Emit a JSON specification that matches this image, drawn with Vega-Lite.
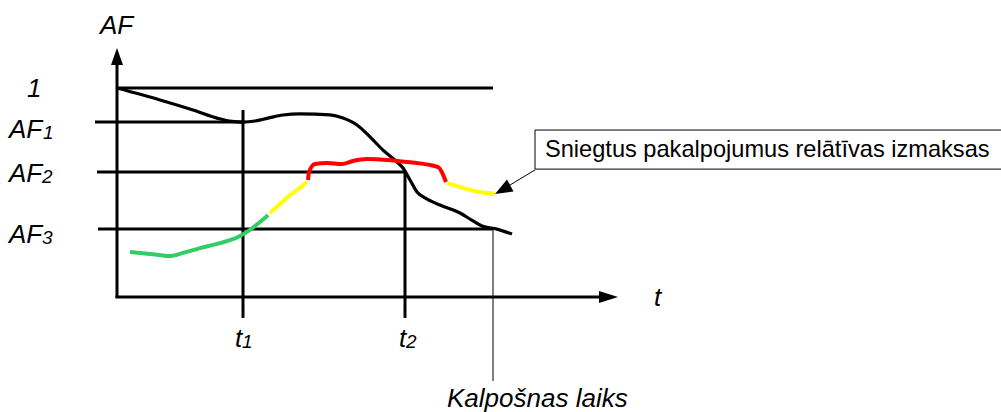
{
  "$schema": "https://vega.github.io/schema/vega-lite/v6.json",
  "width": 1001,
  "height": 412,
  "autosize": {"type": "fit", "contains": "padding"},
  "padding": 0,
  "background": "white",
  "config": {"view": {"stroke": null}},
  "datasets": {
    "rules": [
      {"kind": "axis", "t": 0, "t2": 0, "af": -0.5, "af2": 112},
      {"kind": "axis", "t": -0.15, "t2": 49.0, "af": 0, "af2": 0},
      {"kind": "level", "t": 0, "t2": 37.6, "af": 100, "af2": 100},
      {"kind": "level", "t": -2.2, "t2": 12.6, "af": 83.7, "af2": 83.7},
      {"kind": "level", "t": -2.0, "t2": 28.8, "af": 59.8, "af2": 59.8},
      {"kind": "level", "t": -1.9, "t2": 37.6, "af": 32.5, "af2": 32.5},
      {"kind": "time", "t": 12.6, "t2": 12.6, "af": 89.5, "af2": -10.0},
      {"kind": "time", "t": 28.8, "t2": 28.8, "af": 59.8, "af2": -10.0},
      {"kind": "service", "t": 37.6, "t2": 37.6, "af": 32.5, "af2": -40.2},
      {"kind": "leader", "t": 41.8, "t2": 39.2, "af": 60.8, "af2": 53.3}
    ],
    "curves": [
      {"segment": "AF", "t": 0, "af": 100},
      {"segment": "AF", "t": 4.3, "af": 94.3},
      {"segment": "AF", "t": 7.6, "af": 89.5},
      {"segment": "AF", "t": 10.0, "af": 85.6},
      {"segment": "AF", "t": 11.5, "af": 84.0},
      {"segment": "AF", "t": 12.6, "af": 83.7},
      {"segment": "AF", "t": 13.8, "af": 84.2},
      {"segment": "AF", "t": 15.1, "af": 85.6},
      {"segment": "AF", "t": 16.6, "af": 87.1},
      {"segment": "AF", "t": 18.3, "af": 87.6},
      {"segment": "AF", "t": 21.3, "af": 87.1},
      {"segment": "AF", "t": 22.6, "af": 85.6},
      {"segment": "AF", "t": 24.0, "af": 82.3},
      {"segment": "AF", "t": 25.3, "af": 76.6},
      {"segment": "AF", "t": 26.6, "af": 70.3},
      {"segment": "AF", "t": 28.0, "af": 64.6},
      {"segment": "AF", "t": 28.6, "af": 61.7},
      {"segment": "AF", "t": 29.3, "af": 56.0},
      {"segment": "AF", "t": 30.0, "af": 50.2},
      {"segment": "AF", "t": 30.8, "af": 47.4},
      {"segment": "AF", "t": 32.3, "af": 44.0},
      {"segment": "AF", "t": 34.3, "af": 40.2},
      {"segment": "AF", "t": 35.6, "af": 36.4},
      {"segment": "AF", "t": 36.5, "af": 34.0},
      {"segment": "AF", "t": 38.0, "af": 32.5},
      {"segment": "AF", "t": 39.5, "af": 30.1},

      {"segment": "c1", "level": "low", "t": 1.3, "af": 21.5},
      {"segment": "c1", "level": "low", "t": 3.3, "af": 20.6},
      {"segment": "c1", "level": "low", "t": 5.3, "af": 19.6},
      {"segment": "c1", "level": "low", "t": 6.6, "af": 21.1},
      {"segment": "c1", "level": "low", "t": 8.3, "af": 23.4},
      {"segment": "c1", "level": "low", "t": 10.3, "af": 25.8},
      {"segment": "c1", "level": "low", "t": 12.1, "af": 28.7},
      {"segment": "c1", "level": "low", "t": 13.3, "af": 32.1},
      {"segment": "c1", "level": "low", "t": 14.3, "af": 35.9},
      {"segment": "c1", "level": "low", "t": 15.1, "af": 39.2},

      {"segment": "c2", "level": "medium", "t": 15.3, "af": 40.2},
      {"segment": "c2", "level": "medium", "t": 16.3, "af": 44.5},
      {"segment": "c2", "level": "medium", "t": 17.3, "af": 48.8},
      {"segment": "c2", "level": "medium", "t": 18.3, "af": 52.2},
      {"segment": "c2", "level": "medium", "t": 19.0, "af": 55.0},

      {"segment": "c3", "level": "high", "t": 19.1, "af": 56.0},
      {"segment": "c3", "level": "high", "t": 19.2, "af": 59.8},
      {"segment": "c3", "level": "high", "t": 19.8, "af": 63.6},
      {"segment": "c3", "level": "high", "t": 21.0, "af": 64.1},
      {"segment": "c3", "level": "high", "t": 22.5, "af": 63.6},
      {"segment": "c3", "level": "high", "t": 23.6, "af": 65.1},
      {"segment": "c3", "level": "high", "t": 25.0, "af": 66.0},
      {"segment": "c3", "level": "high", "t": 27.0, "af": 65.6},
      {"segment": "c3", "level": "high", "t": 29.0, "af": 64.6},
      {"segment": "c3", "level": "high", "t": 32.1, "af": 62.2},
      {"segment": "c3", "level": "high", "t": 32.9, "af": 55.0},

      {"segment": "c4", "level": "medium", "t": 33.0, "af": 54.5},
      {"segment": "c4", "level": "medium", "t": 34.3, "af": 52.6},
      {"segment": "c4", "level": "medium", "t": 36.3, "af": 50.2},
      {"segment": "c4", "level": "medium", "t": 37.8, "af": 49.3}
    ],
    "heads": [
      {"head": "AF", "t": 0, "af": 115.1},
      {"head": "t", "t": 49.15, "af": 0},
      {"head": "note", "t": 37.8, "af": 49.3}
    ],
    "labels": [
      {"role": "main", "text": "AF", "t": -1.7, "af": 125.8},
      {"role": "main", "text": "1", "t": -9.0, "af": 95.7},
      {"role": "main", "text": "AF", "t": -10.8, "af": 76.1},
      {"role": "main", "text": "AF", "t": -10.8, "af": 55.0},
      {"role": "main", "text": "AF", "t": -10.8, "af": 25.8},
      {"role": "main", "text": "t", "t": 53.7, "af": -4.3},
      {"role": "main", "text": "t", "t": 11.8, "af": -23.9},
      {"role": "main", "text": "t", "t": 28.2, "af": -23.9},
      {"role": "main", "text": "Kalpošnas laiks", "t": 33.0, "af": -52.6},
      {"role": "sub", "text": "1", "t": -7.4, "af": 75.6},
      {"role": "sub", "text": "2", "t": -7.5, "af": 54.5},
      {"role": "sub", "text": "3", "t": -7.5, "af": 25.4},
      {"role": "sub", "text": "1", "t": 12.5, "af": -24.4},
      {"role": "sub", "text": "2", "t": 28.9, "af": -24.4},
      {"role": "note", "text": "Sniegtus pakalpojumus relātīvas izmaksas", "t": 42.8, "af": 67.0}
    ],
    "box": [
      {"t": 41.8, "t2": 88.6, "af": 79.9, "af2": 61.2}
    ]
  },
  "encoding": {
    "x": {"field": "t", "type": "quantitative", "axis": null,
          "scale": {"domain": [-11.7, 88.4], "nice": false, "zero": false}},
    "y": {"field": "af", "type": "quantitative", "axis": null,
          "scale": {"domain": [-55.02, 142.11], "nice": false, "zero": false}}
  },
  "layer": [
    {
      "data": {"name": "box"},
      "mark": {"type": "rect", "fill": "white", "stroke": "black", "strokeWidth": 1, "clip": true},
      "encoding": {
        "x2": {"field": "t2"},
        "y2": {"field": "af2"}
      }
    },
    {
      "data": {"name": "rules"},
      "transform": [{"filter": "datum.kind === 'axis' || datum.kind === 'level' || datum.kind === 'time'"}],
      "mark": {"type": "rule", "color": "black", "strokeWidth": 3},
      "encoding": {
        "x2": {"field": "t2"},
        "y2": {"field": "af2"}
      }
    },
    {
      "data": {"name": "rules"},
      "transform": [{"filter": "datum.kind === 'service' || datum.kind === 'leader'"}],
      "mark": {"type": "rule", "color": "black", "strokeWidth": 1},
      "encoding": {
        "x2": {"field": "t2"},
        "y2": {"field": "af2"}
      }
    },
    {
      "data": {"name": "curves"},
      "transform": [{"filter": "datum.segment === 'AF'"}],
      "mark": {"type": "line", "color": "black", "strokeWidth": 3.2, "interpolate": "monotone"},
      "encoding": {}
    },
    {
      "data": {"name": "curves"},
      "transform": [{"filter": "datum.segment !== 'AF'"}],
      "mark": {"type": "line", "strokeWidth": 4, "interpolate": "monotone"},
      "encoding": {
        "detail": {"field": "segment", "type": "nominal"},
        "color": {"field": "level", "type": "nominal", "legend": null,
                  "scale": {"domain": ["low", "medium", "high"], "range": ["#33cc66", "#ffff00", "#ff0000"]}}
      }
    },
    {
      "data": {"name": "heads"},
      "mark": {"type": "point", "filled": true, "color": "black", "opacity": 1, "size": 400, "strokeWidth": 0},
      "encoding": {
        "shape": {"field": "head", "type": "nominal", "legend": null,
                  "scale": {"domain": ["AF", "t", "note"],
                            "range": ["M0,-0.85L0.6,0.85L-0.6,0.85Z", "M0.95,0L-0.95,0.6L-0.95,-0.6Z", "M0,0L1.85,-0.25L1.2,-1.45Z"]}}
      }
    },
    {
      "data": {"name": "labels"},
      "transform": [{"filter": "datum.role === 'main'"}],
      "mark": {"type": "text", "font": "Liberation Sans", "fontStyle": "italic", "fontSize": 26, "align": "left", "baseline": "alphabetic", "color": "black"},
      "encoding": {"text": {"field": "text"}}
    },
    {
      "data": {"name": "labels"},
      "transform": [{"filter": "datum.role === 'sub'"}],
      "mark": {"type": "text", "font": "Liberation Sans", "fontStyle": "italic", "fontSize": 19, "align": "left", "baseline": "alphabetic", "color": "black"},
      "encoding": {"text": {"field": "text"}}
    },
    {
      "data": {"name": "labels"},
      "transform": [{"filter": "datum.role === 'note'"}],
      "mark": {"type": "text", "font": "Liberation Sans", "fontSize": 23.6, "align": "left", "baseline": "alphabetic", "color": "black"},
      "encoding": {"text": {"field": "text"}}
    }
  ]
}
